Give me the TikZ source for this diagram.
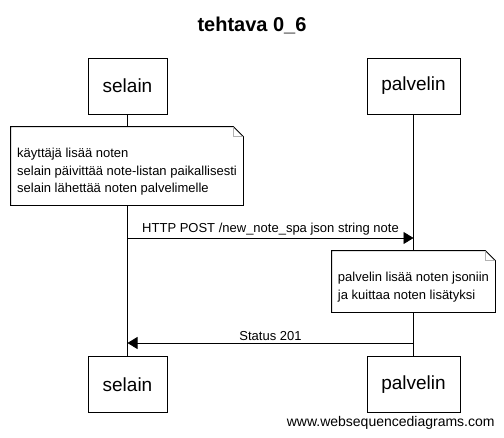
\documentclass[tikz,border=0pt]{standalone}
\usepackage{fontspec}
\setmainfont{Liberation Sans}
\usetikzlibrary{arrows.meta, positioning}

\newcommand{\drawnote}[1]{%
  \draw (#1.north west) -- ([xshift=-10pt]#1.north east) -- ([yshift=-10pt]#1.north east) -- (#1.south east) -- (#1.south west) -- cycle;
  \draw[gray!60] ([xshift=-10pt]#1.north east) |- ([yshift=-10pt]#1.north east);}
\newcommand{\notestrut}{\rule{0pt}{21pt}}

\begin{document}
\begin{tikzpicture}[x=1pt, y=-1pt, line width=0.8pt,
            actor/.style={draw, fill=white, minimum height=56pt, font=\fontsize{19}{23}\selectfont},
            notebox/.style={fill=white, inner sep=5pt, align=left, font=\fontsize{13}{17.5}\selectfont},
            msg/.style={-{Triangle[length=10pt, width=12pt]}},
            lbl/.style={font=\fontsize{13}{16}\selectfont}]

            \useasboundingbox (0,0) rectangle (504,437);
            \node[font=\bfseries\fontsize{20}{24}\selectfont] (title) at (252,25) {tehtava 0\_6};

            \node[actor, minimum width=79pt] (sel1) at (127.5,86) {selain};
            \node[actor, minimum width=93pt] (pal1) at (413.5,86) {palvelin};
            \node[actor, minimum width=79pt] (sel2) at (127.5,384.5) {selain};
            \node[actor, minimum width=93pt] (pal2) at (413.5,384.5) {palvelin};

            \draw (sel1) -- (sel2);
            \draw (pal1) -- (pal2);

            \node[notebox, minimum width=232pt, minimum height=78pt] (note1) at (127,166)
                {\notestrut käyttäjä lisää noten\\selain päivittää note-listan paikallisesti\\selain lähettää noten palvelimelle};
            \drawnote{note1}

            \coordinate (post from) at (127.5,238);
            \coordinate (post to) at (413.5,238);
            \draw[msg] (post from) -- node[lbl, above, inner sep=2pt] (postlbl) {HTTP POST /new\_note\_spa json string note} (post to);

            \node[notebox, minimum width=163pt, minimum height=61pt] (note2) at (413.5,281.5)
                {\notestrut palvelin lisää noten jsoniin\\ja kuittaa noten lisätyksi};
            \drawnote{note2}

            \coordinate (resp from) at (413.5,343);
            \coordinate (resp to) at (127.5,343);
            \draw[msg] (resp from) -- node[lbl, above, inner sep=2pt] (resplbl) {Status 201} (resp to);

            \node[anchor=east, inner sep=0pt, font=\fontsize{14}{17}\selectfont] (wsd) at (495,423) {www.websequencediagrams.com};
        \end{tikzpicture}
\end{document}
